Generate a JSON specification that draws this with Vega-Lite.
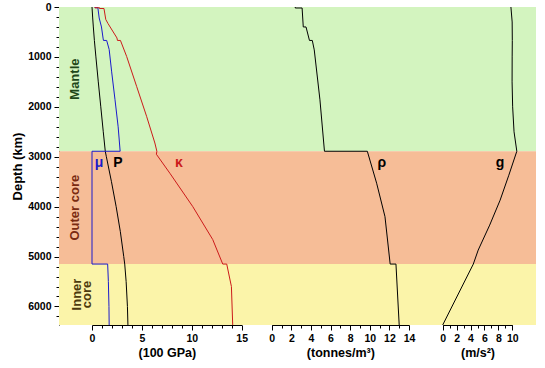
{
  "$schema": "https://vega.github.io/schema/vega-lite/v6.json",
  "width": 477,
  "height": 318,
  "autosize": "none",
  "padding": {"left": 59, "top": 7, "right": 9, "bottom": 43},
  "background": "white",
  "config": {
    "view": {"stroke": null},
    "font": "Liberation Sans",
    "axis": {
      "grid": false,
      "labelFont": "Liberation Sans",
      "labelFontWeight": "bold",
      "labelFontSize": 10.5,
      "labelColor": "#000000",
      "titleFont": "Liberation Sans",
      "titleFontWeight": "bold",
      "titleFontSize": 12.5,
      "titleColor": "#000000",
      "domainColor": "#000000",
      "tickColor": "#000000",
      "labelOverlap": false,
      "labelFlush": false
    }
  },
  "datasets": {
    "zones": [
      {"zone": "Mantle", "d": 0, "d2": 2890},
      {"zone": "Outer core", "d": 2890, "d2": 5150},
      {"zone": "Inner core", "d": 5150, "d2": 6371}
    ],
    "p1": [
      {"s": "P", "n": 1, "d": 0, "v": 0},
      {"s": "P", "n": 2, "d": 220, "v": 0.07},
      {"s": "P", "n": 3, "d": 400, "v": 0.134},
      {"s": "P", "n": 4, "d": 670, "v": 0.238},
      {"s": "P", "n": 5, "d": 1000, "v": 0.39},
      {"s": "P", "n": 6, "d": 1500, "v": 0.63},
      {"s": "P", "n": 7, "d": 2000, "v": 0.88},
      {"s": "P", "n": 8, "d": 2500, "v": 1.13},
      {"s": "P", "n": 9, "d": 2890, "v": 1.33},
      {"s": "P", "n": 10, "d": 3000, "v": 1.44},
      {"s": "P", "n": 11, "d": 3500, "v": 1.95},
      {"s": "P", "n": 12, "d": 4000, "v": 2.42},
      {"s": "P", "n": 13, "d": 4500, "v": 2.84},
      {"s": "P", "n": 14, "d": 5000, "v": 3.18},
      {"s": "P", "n": 15, "d": 5150, "v": 3.28},
      {"s": "P", "n": 16, "d": 5500, "v": 3.42},
      {"s": "P", "n": 17, "d": 6000, "v": 3.55},
      {"s": "P", "n": 18, "d": 6371, "v": 3.6},
      {"s": "mu", "n": 1, "d": 0, "v": 0.3},
      {"s": "mu", "n": 2, "d": 15, "v": 0.3},
      {"s": "mu", "n": 3, "d": 15, "v": 0.6},
      {"s": "mu", "n": 4, "d": 35, "v": 0.6},
      {"s": "mu", "n": 5, "d": 220, "v": 0.72},
      {"s": "mu", "n": 6, "d": 400, "v": 0.95},
      {"s": "mu", "n": 7, "d": 640, "v": 1.12},
      {"s": "mu", "n": 8, "d": 670, "v": 1.15},
      {"s": "mu", "n": 9, "d": 670, "v": 1.47},
      {"s": "mu", "n": 10, "d": 850, "v": 1.72},
      {"s": "mu", "n": 11, "d": 1300, "v": 1.97},
      {"s": "mu", "n": 12, "d": 1850, "v": 2.3},
      {"s": "mu", "n": 13, "d": 2400, "v": 2.62},
      {"s": "mu", "n": 14, "d": 2890, "v": 2.82},
      {"s": "mu", "n": 15, "d": 2890, "v": 0},
      {"s": "mu", "n": 16, "d": 5150, "v": 0},
      {"s": "mu", "n": 17, "d": 5150, "v": 1.57},
      {"s": "mu", "n": 18, "d": 5500, "v": 1.64},
      {"s": "mu", "n": 19, "d": 6000, "v": 1.7},
      {"s": "mu", "n": 20, "d": 6371, "v": 1.72},
      {"s": "K", "n": 1, "d": 0, "v": 0.3},
      {"s": "K", "n": 2, "d": 15, "v": 0.3},
      {"s": "K", "n": 3, "d": 15, "v": 0.75},
      {"s": "K", "n": 4, "d": 30, "v": 0.75},
      {"s": "K", "n": 5, "d": 30, "v": 1.2},
      {"s": "K", "n": 6, "d": 250, "v": 1.38},
      {"s": "K", "n": 7, "d": 330, "v": 1.6},
      {"s": "K", "n": 8, "d": 620, "v": 2.5},
      {"s": "K", "n": 9, "d": 670, "v": 2.55},
      {"s": "K", "n": 10, "d": 670, "v": 2.85},
      {"s": "K", "n": 11, "d": 990, "v": 3.47},
      {"s": "K", "n": 12, "d": 1590, "v": 4.47},
      {"s": "K", "n": 13, "d": 2190, "v": 5.47},
      {"s": "K", "n": 14, "d": 2725, "v": 6.3},
      {"s": "K", "n": 15, "d": 2890, "v": 6.5},
      {"s": "K", "n": 16, "d": 2950, "v": 6.45},
      {"s": "K", "n": 17, "d": 3330, "v": 7.8},
      {"s": "K", "n": 18, "d": 4000, "v": 10.1},
      {"s": "K", "n": 19, "d": 4660, "v": 12.1},
      {"s": "K", "n": 20, "d": 5150, "v": 13.1},
      {"s": "K", "n": 21, "d": 5150, "v": 13.5},
      {"s": "K", "n": 22, "d": 5600, "v": 13.97},
      {"s": "K", "n": 23, "d": 6371, "v": 14.1}
    ],
    "p2": [
      {"n": 1, "d": 0, "v": 2.4},
      {"n": 2, "d": 20, "v": 2.4},
      {"n": 3, "d": 20, "v": 3.1},
      {"n": 4, "d": 400, "v": 3.22},
      {"n": 5, "d": 400, "v": 3.5},
      {"n": 6, "d": 670, "v": 3.85},
      {"n": 7, "d": 670, "v": 4.14},
      {"n": 8, "d": 860, "v": 4.34},
      {"n": 9, "d": 1860, "v": 4.92},
      {"n": 10, "d": 2890, "v": 5.38},
      {"n": 11, "d": 2890, "v": 9.75},
      {"n": 12, "d": 3530, "v": 10.7},
      {"n": 13, "d": 4200, "v": 11.55},
      {"n": 14, "d": 5150, "v": 12.08},
      {"n": 15, "d": 5150, "v": 12.67},
      {"n": 16, "d": 6371, "v": 13.0}
    ],
    "p3": [
      {"n": 1, "d": 0, "v": 9.8},
      {"n": 2, "d": 300, "v": 9.98},
      {"n": 3, "d": 670, "v": 10.0},
      {"n": 4, "d": 1000, "v": 9.98},
      {"n": 5, "d": 1500, "v": 9.97},
      {"n": 6, "d": 2000, "v": 10.05},
      {"n": 7, "d": 2500, "v": 10.25},
      {"n": 8, "d": 2890, "v": 10.65},
      {"n": 9, "d": 3370, "v": 9.5},
      {"n": 10, "d": 3870, "v": 8.25},
      {"n": 11, "d": 4370, "v": 6.75},
      {"n": 12, "d": 4870, "v": 5.1},
      {"n": 13, "d": 5150, "v": 4.4},
      {"n": 14, "d": 6371, "v": 0}
    ]
  },
  "encoding": {
    "y": {
      "field": "d",
      "type": "quantitative",
      "scale": {"domain": [0, 6371], "reverse": true, "nice": false, "zero": false},
      "axis": {
        "title": "Depth (km)",
        "titleFontSize": 13,
        "titlePadding": 3,
        "format": "d",
        "values": [0, 200, 400, 600, 800, 1000, 1200, 1400, 1600, 1800, 2000, 2200, 2400, 2600, 2800, 3000, 3200, 3400, 3600, 3800, 4000, 4200, 4400, 4600, 4800, 5000, 5200, 5400, 5600, 5800, 6000, 6200],
        "labelExpr": "datum.value % 1000 === 0 ? datum.label : ''",
        "tickSize": {"condition": {"test": "datum.value % 1000 === 0", "value": 5}, "value": 3},
        "labelPadding": 3
      }
    }
  },
  "layer": [
    {
      "data": {"name": "zones"},
      "mark": {"type": "rect"},
      "encoding": {
        "y2": {"field": "d2"},
        "fill": {
          "field": "zone",
          "type": "nominal",
          "scale": {"domain": ["Mantle", "Outer core", "Inner core"], "range": ["#d3f4bf", "#f6bd97", "#fbf4a9"]},
          "legend": null
        }
      }
    },
    {
      "data": {"name": "p1"},
      "encoding": {
        "x": {
          "field": "v",
          "type": "quantitative",
          "scale": {"domain": [0, 15], "range": [33, 182.7], "nice": false, "zero": false},
          "axis": {
            "orient": "bottom",
            "title": "(100 GPa)",
            "titlePadding": 3,
            "values": [0, 1, 2, 3, 4, 5, 6, 7, 8, 9, 10, 11, 12, 13, 14, 15],
            "labelExpr": "datum.value % 5 === 0 ? datum.label : ''",
            "tickSize": {"condition": {"test": "datum.value % 5 === 0", "value": 5}, "value": 3},
            "labelPadding": 3
          }
        }
      },
      "layer": [
        {
          "mark": {"type": "line", "strokeWidth": 1},
          "encoding": {
            "order": {"field": "n", "type": "quantitative"},
            "color": {
              "field": "s",
              "type": "nominal",
              "scale": {
                "domain": ["P", "mu", "K", "Mantle", "Outer core", "Inner core"],
                "range": ["#000000", "#1a1acc", "#cc1a1a", "#1f471a", "#7a2a10", "#4d3a0d"]
              },
              "legend": null
            }
          }
        },
        {
          "data": {"values": [
            {"t": "μ", "s": "mu", "v": 0.7, "d": 3120},
            {"t": "P", "s": "P", "v": 2.6, "d": 3120},
            {"t": "κ", "s": "K", "v": 8.7, "d": 3120}
          ]},
          "mark": {"type": "text", "fontWeight": "bold", "fontSize": 14, "font": "Liberation Sans", "align": "center", "baseline": "middle"},
          "encoding": {
            "text": {"field": "t"},
            "color": {"field": "s", "type": "nominal", "legend": null}
          }
        },
        {
          "data": {"values": [
            {"t": "Mantle", "s": "Mantle", "v": -1.7, "d": 1445},
            {"t": "Outer core", "s": "Outer core", "v": -1.7, "d": 4020},
            {"t": "Inner\ncore", "s": "Inner core", "v": -1.5, "d": 5760}
          ]},
          "mark": {"type": "text", "fontWeight": "bold", "fontSize": 13, "font": "Liberation Sans", "angle": 270, "align": "center", "baseline": "middle", "lineBreak": "\n", "lineHeight": 10},
          "encoding": {
            "text": {"field": "t"},
            "color": {"field": "s", "type": "nominal", "legend": null}
          }
        }
      ]
    },
    {
      "data": {"name": "p2"},
      "encoding": {
        "x": {
          "field": "v",
          "type": "quantitative",
          "scale": {"domain": [0, 14], "range": [212.7, 350], "nice": false, "zero": false},
          "axis": {
            "orient": "bottom",
            "title": "(tonnes/m³)",
            "titlePadding": 3,
            "values": [0, 1, 2, 3, 4, 5, 6, 7, 8, 9, 10, 11, 12, 13, 14],
            "labelExpr": "datum.value % 2 === 0 ? datum.label : ''",
            "tickSize": {"condition": {"test": "datum.value % 2 === 0", "value": 5}, "value": 3},
            "labelPadding": 3
          }
        }
      },
      "layer": [
        {
          "mark": {"type": "line", "strokeWidth": 1, "color": "#000000"},
          "encoding": {"order": {"field": "n", "type": "quantitative"}}
        },
        {
          "data": {"values": [{"t": "ρ", "v": 11.24, "d": 3120}]},
          "mark": {"type": "text", "fontWeight": "bold", "fontSize": 14, "font": "Liberation Sans", "align": "center", "baseline": "middle", "color": "#000000"},
          "encoding": {"text": {"field": "t"}}
        }
      ]
    },
    {
      "data": {"name": "p3"},
      "encoding": {
        "x": {
          "field": "v",
          "type": "quantitative",
          "scale": {"domain": [0, 10], "range": [383.7, 453.3], "nice": false, "zero": false},
          "axis": {
            "orient": "bottom",
            "title": "(m/s²)",
            "titlePadding": 3,
            "values": [0, 1, 2, 3, 4, 5, 6, 7, 8, 9, 10],
            "labelExpr": "datum.value % 2 === 0 ? datum.label : ''",
            "tickSize": {"condition": {"test": "datum.value % 2 === 0", "value": 5}, "value": 3},
            "labelPadding": 3
          }
        }
      },
      "layer": [
        {
          "mark": {"type": "line", "strokeWidth": 1, "color": "#000000"},
          "encoding": {"order": {"field": "n", "type": "quantitative"}}
        },
        {
          "data": {"values": [{"t": "g", "v": 8.23, "d": 3120}]},
          "mark": {"type": "text", "fontWeight": "bold", "fontSize": 14, "font": "Liberation Sans", "align": "center", "baseline": "middle", "color": "#000000"},
          "encoding": {"text": {"field": "t"}}
        }
      ]
    }
  ],
  "resolve": {"scale": {"x": "independent"}, "axis": {"x": "independent"}}
}
